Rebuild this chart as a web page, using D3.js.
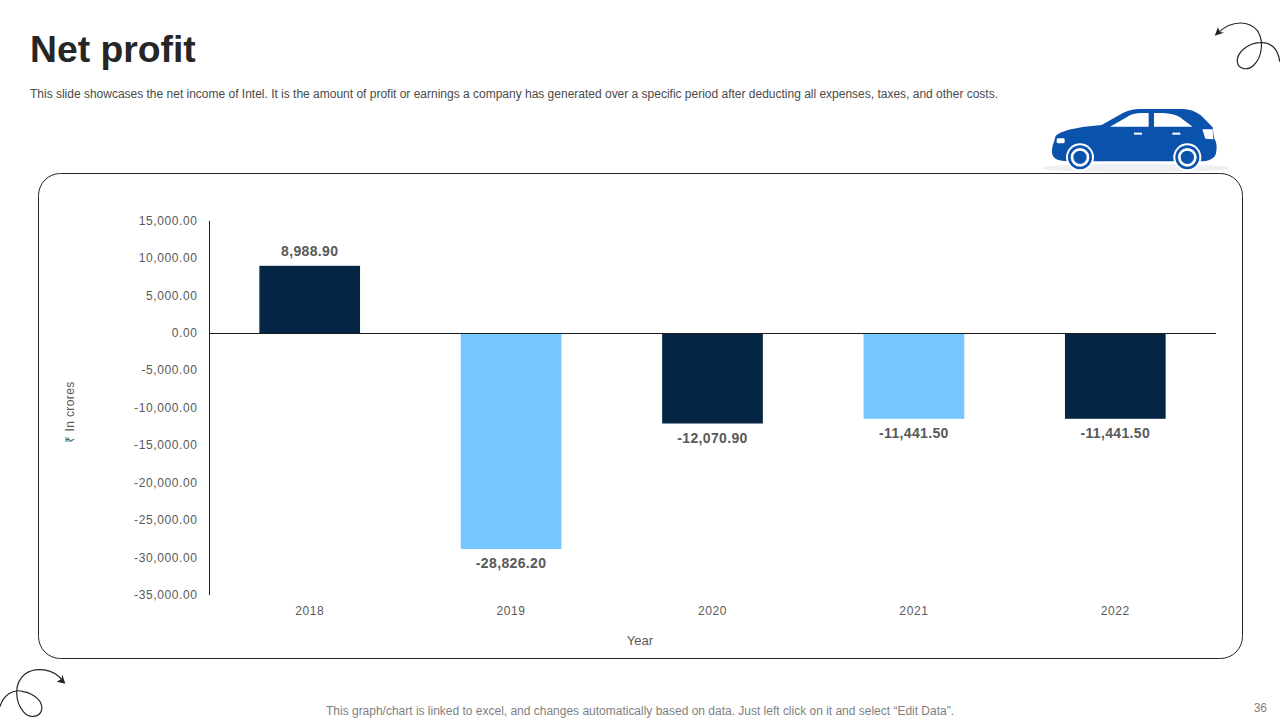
<!DOCTYPE html>
<html>
<head>
<meta charset="utf-8">
<script src="https://cdn.jsdelivr.net/npm/d3@7/dist/d3.min.js"></script>
<style>
  html, body { margin: 0; padding: 0; background: #fff; }
  svg { display: block; }
  text { font-family: "Liberation Sans", Arial, sans-serif; }
</style>
</head>
<body>
<svg id="chart" width="1280" height="720"></svg>
<script>
var years = ["2018", "2019", "2020", "2021", "2022"];
var netProfit = [8988.9, -28826.2, -12070.9, -11441.5, -11441.5];
var barColors = ["#052544", "#75c8ff", "#052544", "#75c8ff", "#052544"];
var yTicks = [15000, 10000, 5000, 0, -5000, -10000, -15000, -20000, -25000, -30000, -35000];

var svg = d3.select("#chart");
// plain hyphen for negatives, as on the slide
var fmt = d3.formatLocale({ decimal: ".", thousands: ",", grouping: [3], currency: ["", ""], minus: "-" }).format(",.2f");

var x = d3.scaleBand().domain(years).range([209, 1216]).paddingInner(0.5).paddingOuter(0.25);
var y = d3.scaleLinear().domain([-35000, 15000]).range([595.2, 220.8]);

// header
svg.append("text").attr("x", 30).attr("y", 61.5).attr("font-size", 37.3).attr("font-weight", "bold")
  .attr("fill", "#262626").text("Net profit");
svg.append("text").attr("x", 30).attr("y", 98).attr("font-size", 12).attr("fill", "#4a4a4a")
  .attr("textLength", 968).text("This slide showcases the net income of Intel. It is the amount of profit or earnings a company has generated over a specific period after deducting all expenses, taxes, and other costs.");

// car, drawn in the 3x crop coordinates
var car = svg.append("g").attr("transform", "translate(1030,10) scale(0.3333)");
car.append("ellipse").attr("cx", 315).attr("cy", 474).attr("rx", 282).attr("ry", 13).attr("fill", "#eef0f3");
car.append("path").attr("fill", "#0b52ac")
  .attr("d", "M66 425C66 405 72 400 76 380C85 365 130 352 215 345L280 308C300 298 320 297 340 297L460 297C480 298 500 306 515 318L548 352L552 385C560 395 562 410 558 430C555 445 540 452 520 454L130 454C90 454 66 450 66 425Z");
car.append("path").attr("fill", "#fff").attr("d", "M240 350L290 322Q305 310 330 309L356 309L356 350Z");
car.append("path").attr("fill", "#fff").attr("d", "M372 309L400 309Q430 310 450 322L488 350L372 350Z");
car.append("path").attr("fill", "#fff").attr("d", "M517 358L548 358L550 388L526 386Z");
car.append("rect").attr("x", 80).attr("y", 385).attr("width", 24).attr("height", 15).attr("rx", 4).attr("fill", "#fff");
[312, 427].forEach(function(hx) {
  car.append("rect").attr("x", hx).attr("y", 368).attr("width", 24).attr("height", 6).attr("fill", "#fff");
});
[150, 472].forEach(function(cx) {
  [[42, "#fff"], [36, "#0b52ac"], [28, "#fff"], [20, "#0b52ac"]].forEach(function(w) {
    car.append("circle").attr("cx", cx).attr("cy", 442).attr("r", w[0]).attr("fill", w[1]);
  });
});

// squiggles
var topSwirl = svg.append("g").attr("transform", "translate(1030,10) scale(0.3333)");
topSwirl.append("path").attr("fill", "none").attr("stroke", "#262626").attr("stroke-width", 3.5)
  .attr("d", "M749 155C745 115 720 95 690 98C650 100 620 130 622 155C625 180 655 182 672 165C697 140 702 90 682 62C660 35 610 25 562 70");
topSwirl.append("path").attr("fill", "#262626").attr("d", "M554 77L564 52L570 66L582 68Z");
var lowSwirl = svg.append("g").attr("transform", "translate(0,570) scale(0.3333)");
lowSwirl.append("path").attr("fill", "none").attr("stroke", "#262626").attr("stroke-width", 3.5)
  .attr("d", "M0 410C10 375 40 355 70 365C105 372 130 395 125 420C118 445 85 445 70 425C45 395 40 340 75 312C105 290 160 295 188 332");
lowSwirl.append("path").attr("fill", "#262626").attr("d", "M196 341L170 335L184 327L187 314Z");

// chart frame
svg.append("rect").attr("x", 38.5).attr("y", 173.5).attr("width", 1204).attr("height", 485).attr("rx", 22)
  .attr("fill", "#fff").attr("stroke", "#262626").attr("stroke-width", 1);

// bars
svg.selectAll("rect.bar").data(years).enter().append("rect").attr("class", "bar")
  .attr("x", function(d) { return x(d); })
  .attr("width", x.bandwidth())
  .attr("y", function(d, i) { return Math.min(y(netProfit[i]), y(0)); })
  .attr("height", function(d, i) { return Math.abs(y(netProfit[i]) - y(0)); })
  .attr("fill", function(d, i) { return barColors[i]; });

// value labels
svg.selectAll("text.val").data(years).enter().append("text").attr("class", "val")
  .attr("x", function(d) { return x(d) + x.bandwidth() / 2; })
  .attr("y", function(d, i) { return netProfit[i] > 0 ? y(netProfit[i]) - 9.5 : y(netProfit[i]) + 19.5; })
  .attr("text-anchor", "middle").attr("font-size", 14).attr("font-weight", "bold").attr("fill", "#595959")
  .attr("letter-spacing", 0.35)
  .text(function(d, i) { return fmt(netProfit[i]); });

// y axis
var yAxis = d3.axisLeft(y).tickValues(yTicks).tickSize(0).tickPadding(12).tickFormat(fmt).offset(0);
var yG = svg.append("g").attr("transform", "translate(209.5,0)").call(yAxis);
yG.select(".domain").attr("stroke", "#1a1a1a");
yG.selectAll("text").attr("font-size", 12).attr("fill", "#595959").attr("letter-spacing", 0.6)
  .style("font-family", '"Liberation Sans", Arial, sans-serif');

// x axis sits on the zero line, labels pushed below the plot
var xAxis = d3.axisBottom(x).tickSize(0).tickPadding(273).offset(0);
var xG = svg.append("g").attr("transform", "translate(0," + (Math.round(y(0)) + 0.5) + ")").call(xAxis);
xG.select(".domain").attr("stroke", "#1a1a1a");
xG.selectAll("text").attr("font-size", 12).attr("fill", "#595959").attr("letter-spacing", 0.6)
  .style("font-family", '"Liberation Sans", Arial, sans-serif');

// axis titles
svg.append("text").attr("x", 640).attr("y", 645).attr("text-anchor", "middle").attr("font-size", 13)
  .attr("fill", "#595959").text("Year");
svg.append("text").attr("transform", "translate(74,412) rotate(-90)").attr("text-anchor", "middle")
  .attr("font-size", 12).attr("fill", "#595959").attr("letter-spacing", 0.4).text("₹ In crores");

// footer
svg.append("text").attr("x", 640).attr("y", 715).attr("text-anchor", "middle").attr("font-size", 12)
  .attr("fill", "#7f7f7f").attr("textLength", 628).text("This graph/chart is linked to excel, and changes automatically based on data. Just left click on it and select “Edit Data”.");
svg.append("text").attr("x", 1267).attr("y", 712).attr("text-anchor", "end").attr("font-size", 12)
  .attr("fill", "#7f7f7f").text("36");
</script>
</body>
</html>
